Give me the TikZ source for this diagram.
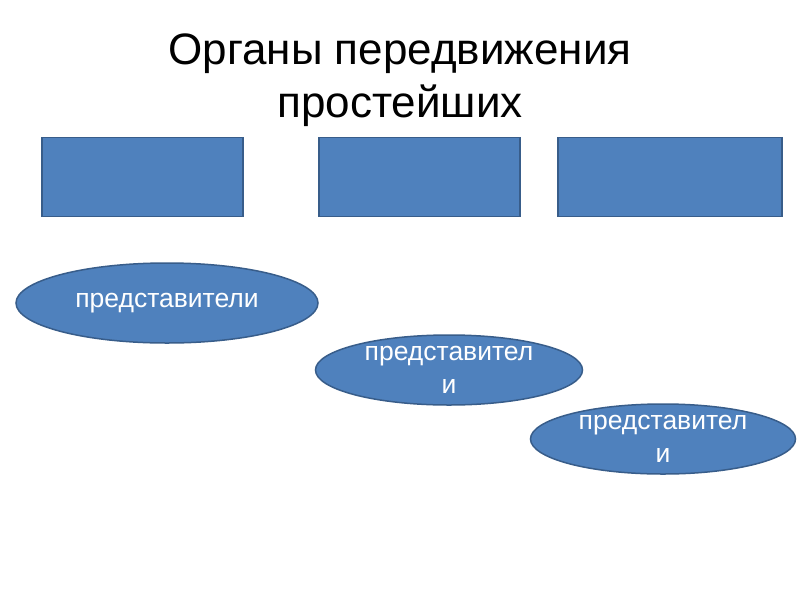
\documentclass[tikz,border=0pt]{standalone}
\usepackage{fontspec}
\setmainfont{Liberation Sans}
\usetikzlibrary{shapes.geometric}
\definecolor{blockfill}{HTML}{4F81BD}
\definecolor{blockline}{HTML}{385D8A}

\begin{document}
\begin{tikzpicture}[x=1pt,y=-1pt,
  box/.style={draw=blockline,fill=blockfill,line width=1.5pt},
  oval/.style={ellipse,draw=blockline,fill=blockfill,line width=1.5pt,
    inner sep=0pt,text=white,align=center,font=\fontsize{26.5}{33}\selectfont}]
  \useasboundingbox[fill=white] (0,0) rectangle (800,600);
  % title
  \node[font=\fontsize{44}{53}\selectfont,align=center] (title) at (400,80)
    {Органы передвижения\\простейших};
  % empty blocks
  \node[box,minimum width=201,minimum height=79,anchor=north west] (b1) at (41,136.5) {};
  \node[box,minimum width=201,minimum height=79,anchor=north west] (b2) at (318,136.5) {};
  \node[box,minimum width=224,minimum height=79,anchor=north west] (b3) at (557,136.5) {};
  % ovals
  \node[oval,minimum width=302,minimum height=80] (e1) at (167,303) {представители};
  \node[oval,minimum width=267,minimum height=70] (e2) at (449,370) {представител\\и};
  \node[oval,minimum width=265,minimum height=70] (e3) at (663,439) {представител\\и};
\end{tikzpicture}
\end{document}
